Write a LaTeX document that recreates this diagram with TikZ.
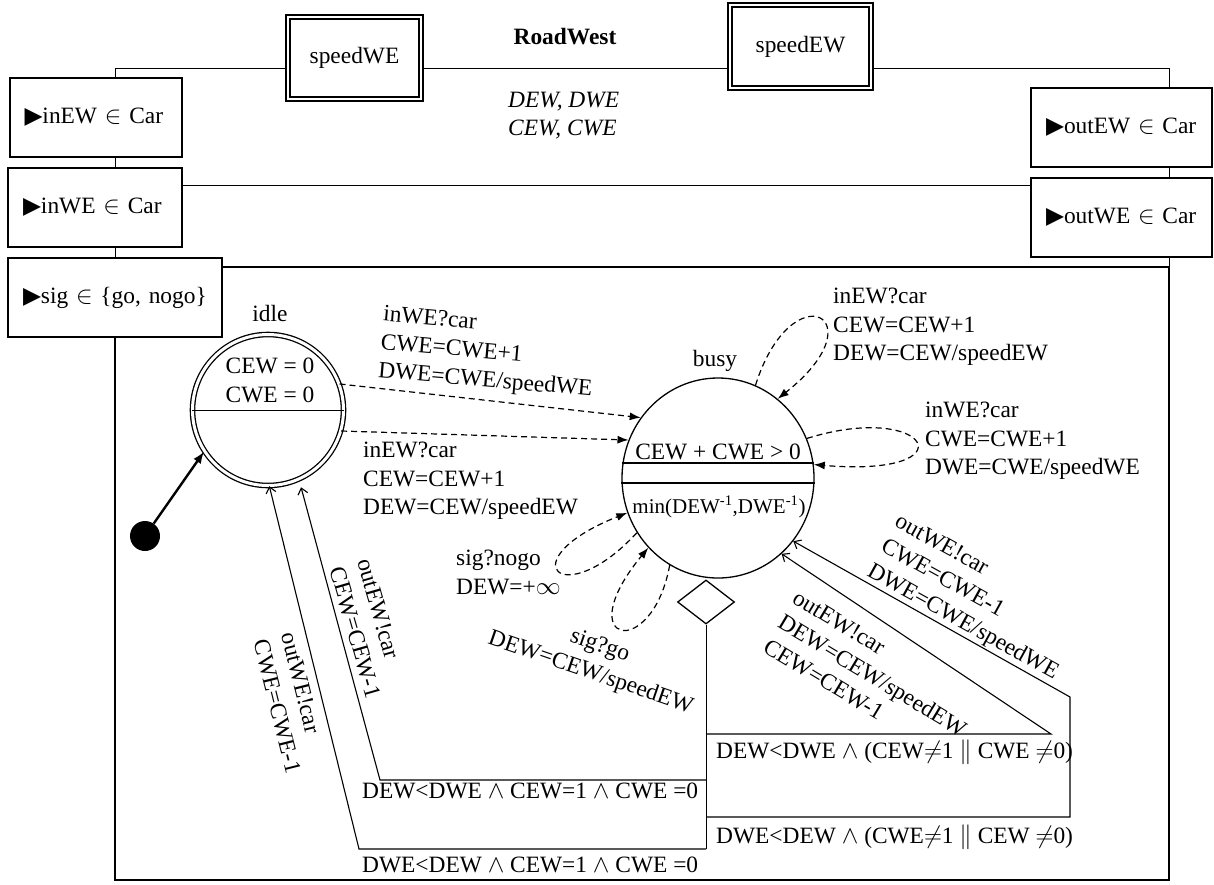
\documentclass[tikz,border=0pt]{standalone}
\usepackage{fontspec}
\setmainfont{Liberation Serif}
\newfontfamily\symfont{DejaVu Sans}
\usetikzlibrary{arrows.meta,shapes.geometric}

\newcommand{\bodyfont}{\fontsize{23.4}{28.5}\selectfont}
\newcommand{\inport}{{\symfont ▶}}

\begin{document}
\begin{tikzpicture}[x=1pt,y=-1pt,font=\bodyfont,
  port/.style={draw,line width=2pt,fill=white,inner xsep=15pt,inner ysep=0pt,minimum height=79pt,align=left},
  param/.style={draw,double,line width=1.6pt,double distance=2.4pt,fill=white,inner sep=0pt},
  loc/.style={draw,line width=1.3pt,inner sep=0pt},
  startdot/.style={circle,fill=black,minimum size=30pt,inner sep=0pt},
  choice/.style={diamond,draw,line width=1.3pt,inner sep=0pt,minimum width=57pt,minimum height=44pt},
  lbl/.style={inner sep=0pt,align=left,anchor=north west},
  guard/.style={inner sep=0pt,anchor=base west},
  dashtrans/.style={line width=1.2pt,dash pattern=on 6pt off 4pt,-{Latex[length=11pt,width=8pt]}},
  outtrans/.style={line width=1.1pt,-{Straight Barb[length=6pt,width=10pt]}},
  frame/.style={line width=1pt},
  region/.style={line width=1.6pt}]
  \useasboundingbox (0,0) rectangle (1214,884);

  % frame of the component
  \draw[frame] (115,267) -- (115,68) -- (1169,68) -- (1169,267);
  \draw[frame] (115,185) -- (1169,185);
  \draw[region] (115,267) rectangle (1169,880);

  % parameters, variables and ports
  \node[font=\bodyfont\bfseries,anchor=base] (title) at (565,44) {RoadWest};
  \node[lbl,font=\bodyfont\itshape] (vars) at (508,91.5) {DEW, DWE\\CEW, CWE};
  \node[param,minimum width=133pt,minimum height=82pt] (speedWE) at (354.5,58) {speedWE};
  \node[param,minimum width=141pt,minimum height=83pt] (speedEW) at (800.5,46.5) {speedEW};

  \node[port,text width=142pt] (inEW) at (95.5,117) {\inport inEW $\in$ Car};
  \node[port,text width=144pt] (inWE) at (95,207) {\inport inWE $\in$ Car};
  \node[port,text width=184pt] (sig) at (115,297.5) {\inport sig $\in$ \{go, nogo\}};
  \node[port,text width=151pt] (outEW) at (1121.5,127) {\inport outEW $\in$ Car};
  \node[port,text width=151pt] (outWE) at (1121.5,217.5) {\inport outWE $\in$ Car};

  % locations
  \node[loc,circle,double,double distance=3pt,minimum size=151pt] (idle) at (268,410) {};
  \node[anchor=base] (idlename) at (270,321) {idle};
  \node[inner sep=0pt,align=center,anchor=north] (idleinv) at (270,358.2) {CEW = 0\\CWE = 0};
  \draw[frame] (idle.west) -- (idle.east);

  \node[loc,ellipse,minimum width=192pt,minimum height=200pt] (busy) at (718,478) {};
  \node[anchor=base] (busyname) at (715,366) {busy};
  \node[anchor=base] (busyinv) at (718,459) {CEW + CWE > 0};
  \draw[line width=1.4pt] (busy.171) -- (busy.9);
  \draw[line width=1.4pt] (busy.183) -- (busy.-3);
  \node[anchor=base,font=\fontsize{21}{25}\selectfont] (busyrate) at (719,513) {min(DEW\textsuperscript{-1},DWE\textsuperscript{-1})};

  \node[choice] (choice) at (706,602) {};
  \node[startdot] (init) at (145,536) {};
  \draw[line width=2.4pt,-{Latex[length=12pt,width=9pt]}] (init) -- (idle.213);

  % arrivals
  \draw[dashtrans] (idle.20) -- (busy.142);
  \draw[dashtrans] (idle.-16) -- (busy.157);
  \draw[dashtrans] (busy.68) .. controls (792,270) and (880,318) .. (busy.53);
  \draw[dashtrans] (busy.24) .. controls (930,400) and (972,478) .. (busy.8);
  \draw[dashtrans] (busy.214) .. controls (562,614) and (508,560) .. (busy.201);
  \draw[dashtrans] (busy.241) .. controls (652,662) and (568,645) .. (busy.225);

  \node[lbl,rotate=-5] (tinWE) at (384,305) {inWE?car\\CWE=CWE+1\\DWE=CWE/speedWE};
  \node[lbl] (tinEW) at (363,442) {inEW?car\\CEW=CEW+1\\DEW=CEW/speedEW};
  \node[lbl] (tloopEW) at (833,288) {inEW?car\\CEW=CEW+1\\DEW=CEW/speedEW};
  \node[lbl] (tloopWE) at (925,402) {inWE?car\\CWE=CWE+1\\DWE=CWE/speedWE};
  \node[lbl] (tnogo) at (456,550) {sig?nogo\\DEW=+$\infty$};
  \node[inner sep=0pt,align=center,rotate=-19] (tgo) at (595,660) {sig?go\\DEW=CEW/speedEW};

  % departures through the choice point
  \coordinate (jn1) at (706,734);
  \coordinate (jn2) at (706,780);
  \coordinate (jn3) at (706,817);
  \coordinate (jn4) at (706,849);
  \draw[frame] (choice.south) -- (jn4);
  \draw[outtrans] (jn1) -- (1051,734) -- (busy.-50);
  \draw[outtrans] (jn3) -- (1070,817) -- (1070,697) -- (busy.-40);
  \draw[outtrans,shorten >=8pt] (jn2) -- (380,780) -- (idle.-66);
  \draw[outtrans] (jn4) -- (359,849) -- (idle.-89);

  \node[guard] (gEW) at (716,758) {DEW<DWE $\wedge$ (CEW$\neq$1 $\parallel$ CWE $\neq$0)};
  \node[guard] (gWE) at (716,843) {DWE<DEW $\wedge$ (CWE$\neq$1 $\parallel$ CEW $\neq$0)};
  \node[guard] (gEWlast) at (362,798) {DEW<DWE $\wedge$ CEW=1 $\wedge$ CWE =0};
  \node[guard] (gWElast) at (362,872) {DWE<DEW $\wedge$ CEW=1 $\wedge$ CWE =0};

  \node[lbl,rotate=-31] (toutEW) at (799,589) {outEW!car\\DEW=CEW/speedEW\\CEW=CEW-1};
  \node[lbl,rotate=-29] (toutWE) at (901,512) {outWE!car\\CWE=CWE-1\\DWE=CWE/speedWE};
  \node[lbl,rotate=-74] (tlastEW) at (372,557) {outEW!car\\CEW=CEW-1};
  \node[lbl,rotate=-76] (tlastWE) at (296,631) {outWE!car\\CWE=CWE-1};
\end{tikzpicture}
\end{document}
